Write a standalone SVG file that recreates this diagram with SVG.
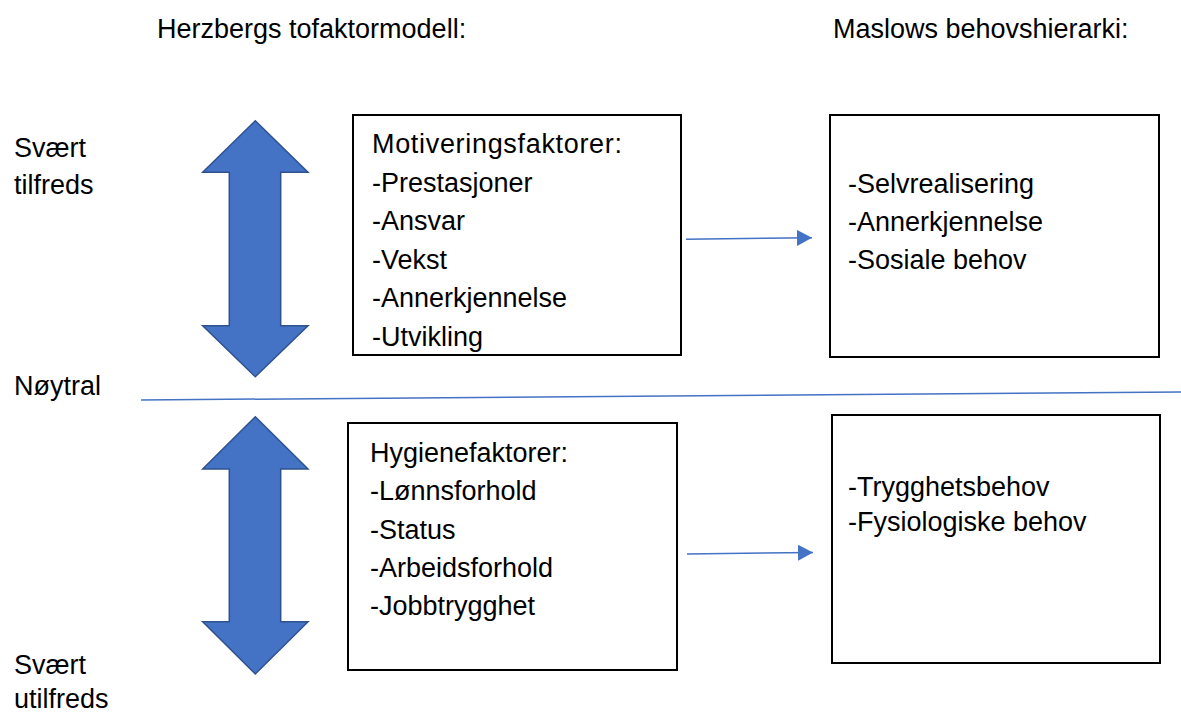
<svg xmlns="http://www.w3.org/2000/svg" width="1181" height="715" viewBox="0 0 1181 715">
<style>
text{font-family:"Liberation Sans",Arial,sans-serif;font-size:27px;fill:#000}
.box{fill:#fff;stroke:#000;stroke-width:2}
.big{fill:#4472C4;stroke:#2F528F;stroke-width:1.5}
.conn{stroke:#4472C4;stroke-width:1.5;fill:none}
</style>
<defs>
<marker id="ah" markerWidth="16" markerHeight="16" refX="15" refY="8" orient="auto" markerUnits="userSpaceOnUse">
<path d="M0,0 L15,8 L0,16 Z" fill="#4472C4"/>
</marker>
</defs>
<rect width="1181" height="715" fill="#fff"/>
<g id="labels">
<text x="157" y="38">Herzbergs tofaktormodell:</text>
<text x="833" y="38">Maslows behovshierarki:</text>
<text x="14" y="157">Svært</text>
<text x="14" y="194">tilfreds</text>
<text x="14" y="395">Nøytral</text>
<text x="14" y="674">Svært</text>
<text x="14" y="708">utilfreds</text>
</g>
<g id="arrow-top">
<path class="big" d="M255.3,120.7 L308,172.3 L280.7,172.3 L280.7,325.7 L308,325.7 L255.3,376.7 L202.7,325.7 L229.3,325.7 L229.3,172.3 L202.7,172.3 Z"/>
</g>
<g id="arrow-bottom">
<path class="big" d="M255.3,416.7 L308,469 L280.7,469 L280.7,621.7 L308,621.7 L255.3,674 L202.7,621.7 L229.3,621.7 L229.3,469 L202.7,469 Z"/>
</g>
<g id="motivering">
<rect class="box" x="353" y="115" width="328" height="240"/>
<text x="372" y="153" textLength="250">Motiveringsfaktorer:</text>
<text x="372" y="191.5">-Prestasjoner</text>
<text x="372" y="230">-Ansvar</text>
<text x="372" y="268.5">-Vekst</text>
<text x="372" y="307">-Annerkjennelse</text>
<text x="372" y="345.5">-Utvikling</text>
</g>
<g id="maslow-top">
<rect class="box" x="830" y="115" width="329" height="242"/>
<text x="848" y="193">-Selvrealisering</text>
<text x="848" y="231">-Annerkjennelse</text>
<text x="848" y="269">-Sosiale behov</text>
</g>
<g id="hygiene">
<rect class="box" x="348" y="423" width="329" height="247"/>
<text x="370" y="462">Hygienefaktorer:</text>
<text x="370" y="500">-Lønnsforhold</text>
<text x="370" y="538.5">-Status</text>
<text x="370" y="577">-Arbeidsforhold</text>
<text x="370" y="615">-Jobbtrygghet</text>
</g>
<g id="maslow-bottom">
<rect class="box" x="832" y="415" width="328" height="248"/>
<text x="848" y="496">-Trygghetsbehov</text>
<text x="848" y="531">-Fysiologiske behov</text>
</g>
<g id="connectors">
<line class="conn" x1="141" y1="400" x2="1181" y2="392"/>
<line class="conn" x1="686" y1="239.3" x2="812" y2="237.7" marker-end="url(#ah)"/>
<line class="conn" x1="687" y1="554" x2="813" y2="552.5" marker-end="url(#ah)"/>
</g>
</svg>
